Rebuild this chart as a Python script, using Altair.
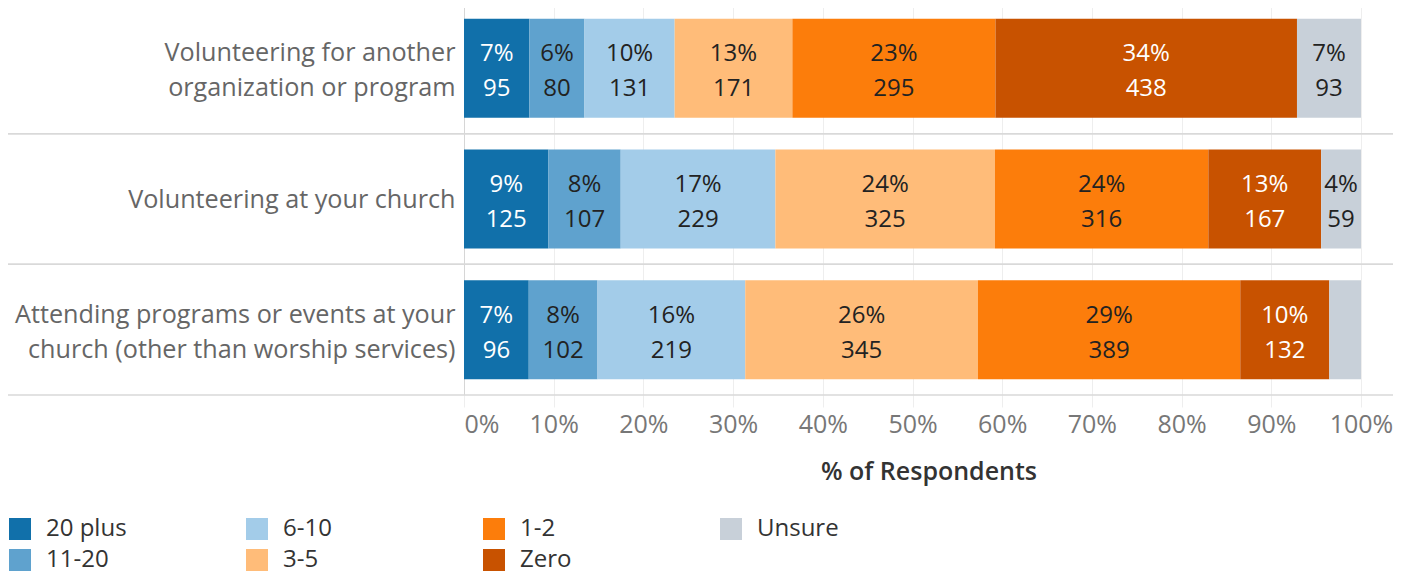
import altair as alt
import pandas as pd

activities = [
    "Volunteering for another|organization or program",
    "Volunteering at your church",
    "Attending programs or events at your|church (other than worship services)",
]
categories = ["20 plus", "11-20", "6-10", "3-5", "1-2", "Zero", "Unsure"]
counts_other_org = [95, 80, 131, 171, 295, 438, 93]
counts_church = [125, 107, 229, 325, 316, 167, 59]
counts_programs = [96, 102, 219, 345, 389, 132, 47]
colors = ["#1170aa", "#5fa2ce", "#a3cce9", "#ffbc79", "#fc7d0b", "#c85200", "#c8d0d9"]
tick_values = [0, 0.1, 0.2, 0.3, 0.4, 0.5, 0.6, 0.7, 0.8, 0.9, 1.0]

rows = []
for act, cnts in zip(activities, [counts_other_org, counts_church, counts_programs]):
    total = sum(cnts)
    cum = 0.0
    for cat, c in zip(categories, cnts):
        p = c / total
        lab = f"{int(p * 100 + 0.5)}%\n{c}" if p >= 0.04 else ""
        rows.append({"activity": act, "category": cat, "count": c, "pct": p,
                     "start": cum, "end": cum + p, "mid": cum + p / 2, "label": lab})
        cum += p
df = pd.DataFrame(rows)
sep = pd.DataFrame({"activity": activities})

FONT = "Open Sans"
PLOT_W = 929

y_enc = alt.Y(
    "activity:N", sort=activities,
    scale=alt.Scale(paddingInner=0, paddingOuter=0),
    axis=alt.Axis(title=None, labelExpr="split(datum.label, '|')", labelFontSize=25.2,
                  labelColor="#666666", labelFont=FONT, labelPadding=9, labelLineHeight=35,
                  labelOffset={"condition": {"test": "indexof(datum.value, '|') >= 0", "value": -15},
                               "value": 1},
                  ticks=False, domain=False, grid=False, labelLimit=600),
)

x_scale = alt.Scale(domain=[0, PLOT_W / 897], nice=False, zero=True)

bars = alt.Chart(df).mark_bar(height=99).encode(
    x=alt.X("start:Q", scale=x_scale,
            axis=alt.Axis(values=tick_values, format=".0%", title="% of Respondents",
                          labelFontSize=25, labelColor="#777777", labelFont=FONT,
                          labelFlush=True, labelOverlap=False, labelPadding=5,
                          tickSize=12, tickColor="#eeeeee", domain=False,
                          grid=True,
                          gridColor={"condition": {"test": "datum.value == 0", "value": "#d6d6d6"},
                                     "value": "#eeeeee"},
                          titleFont=FONT, titleFontSize=25, titleFontWeight=600,
                          titleColor="#333333", titlePadding=22)),
    x2="end:Q",
    y=y_enc,
    color=alt.Color("category:N",
                    scale=alt.Scale(domain=categories, range=colors),
                    legend=alt.Legend(title=None, orient="none", legendX=-456, legendY=514,
                                      columns=4, symbolType="square", symbolSize=484,
                                      symbolStrokeWidth=0, labelFontSize=24, labelFont=FONT,
                                      labelColor="#333333", labelOffset=14, columnPadding=117,
                                      rowPadding=7, gridAlign="all", padding=0)),
)

texts = alt.Chart(df).mark_text(lineBreak="\n", lineHeight=35, fontSize=24, font=FONT,
                                baseline="middle", align="center", dy=-14).encode(
    x=alt.X("mid:Q", scale=x_scale),
    y=alt.Y("activity:N", sort=activities),
    text="label:N",
    color=alt.condition("datum.category == '20 plus' || datum.category == 'Zero'",
                        alt.value("#ffffff"), alt.value("#222222")),
)

sep_top = alt.Chart(sep).mark_rule(color="#d9d9d9", strokeWidth=1.5).encode(
    y=alt.Y("activity:N", sort=activities, bandPosition=0),
    x=alt.value(-456), x2=alt.value(PLOT_W),
)
sep_bot = alt.Chart(sep).mark_rule(color="#d9d9d9", strokeWidth=1.5).encode(
    y=alt.Y("activity:N", sort=activities, bandPosition=1),
    x=alt.value(-456), x2=alt.value(PLOT_W),
)

chart = alt.layer(bars, texts, sep_top, sep_bot).properties(
    width=PLOT_W, height=392,
    padding={"left": 456, "top": -5, "right": 0, "bottom": 181},
    autosize=alt.AutoSizeParams(type="none"),
).configure_view(stroke=None)

chart.save("out.html", embed_options={"renderer": "svg", "actions": False})
